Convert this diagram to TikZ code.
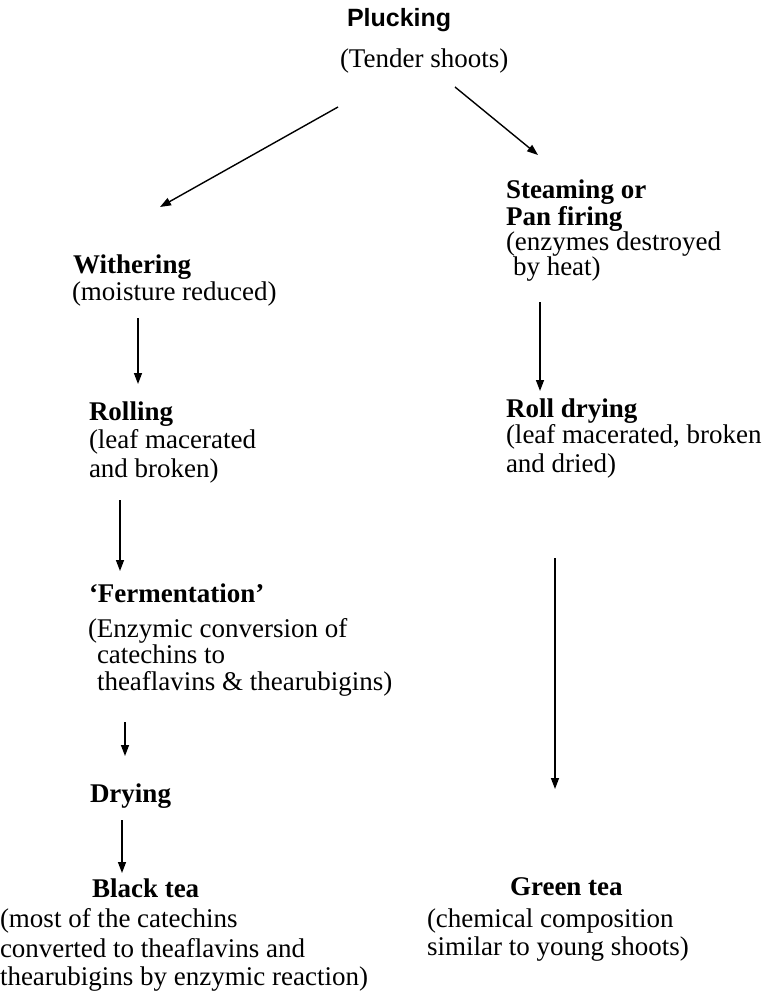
\documentclass[tikz,border=0pt]{standalone}
\usepackage{fontspec}
\setmainfont{Liberation Serif}
\newfontfamily\headsans{Liberation Sans}
\usetikzlibrary{arrows.meta}

\begin{document}
\begin{tikzpicture}[x=1pt,y=-1pt,
  txt/.style={anchor=base west,inner sep=0pt,outer sep=0pt,
    font=\fontsize{27}{30}\selectfont},
  hd/.style={txt,font=\fontsize{27}{30}\selectfont\bfseries},
  flow/.style={line width=1.4pt,-{Triangle[length=11pt,width=8pt]}}]

\useasboundingbox (0,0) rectangle (776,998);

% top: plucking
\node[txt,font=\fontsize{25}{28}\selectfont\headsans\bfseries] (pluck) at (347,27) {Plucking};
\node[txt] (pluckd) at (340,67) {(Tender shoots)};

% left branch: black tea
\node[hd]  (wither)  at (73,273)  {Withering};
\node[txt] (witherd) at (72,300)  {(moisture reduced)};

\node[hd]  (roll)   at (89,420)  {Rolling};
\node[txt] (rolld1) at (89,448)  {(leaf macerated};
\node[txt] (rolld2) at (89,477)  {and broken)};

\node[hd]  (ferm)   at (89,602)  {`Fermentation'};
\node[txt] (fermd1) at (88,637)  {(Enzymic conversion of};
\node[txt] (fermd2) at (97,663)  {catechins to};
\node[txt] (fermd3) at (97,690)  {theaflavins \& thearubigins)};

\node[hd]  (dry)    at (90,802)  {Drying};

\node[hd]  (black)  at (92,897)  {Black tea};
\node[txt] (blackd1) at (0,927)  {(most of the catechins};
\node[txt] (blackd2) at (0,957)  {converted to theaflavins and};
\node[txt] (blackd3) at (0,985)  {thearubigins by enzymic reaction)};

% right branch: green tea
\node[hd]  (steam1) at (506,198) {Steaming or};
\node[hd]  (steam2) at (506,225) {Pan firing};
\node[txt] (steamd1) at (506,250) {(enzymes destroyed};
\node[txt] (steamd2) at (513,275) {by heat)};

\node[hd]  (rdry)   at (506,417) {Roll drying};
\node[txt] (rdryd1) at (506,443) {(leaf macerated, broken};
\node[txt] (rdryd2) at (506,472) {and dried)};

\node[hd]  (green)  at (510,895) {Green tea};
\node[txt] (greend1) at (427,927) {(chemical composition};
\node[txt] (greend2) at (427,955) {similar to young shoots)};

% arrow end points
\coordinate (aL0) at (338,107);  \coordinate (aL1) at (160,207);
\coordinate (aR0) at (455,87);   \coordinate (aR1) at (538,155);
\coordinate (b10) at (138,318);  \coordinate (b11) at (138,384);
\coordinate (b20) at (120,500);  \coordinate (b21) at (120,571);
\coordinate (b30) at (125,722);  \coordinate (b31) at (125,756);
\coordinate (b40) at (122,820);  \coordinate (b41) at (122,873);
\coordinate (g10) at (540,302);  \coordinate (g11) at (540,391);
\coordinate (g20) at (555,558);  \coordinate (g21) at (555,789);

\draw[flow] (aL0) -- (aL1);
\draw[flow] (aR0) -- (aR1);
\draw[flow] (b10) -- (b11);
\draw[flow] (b20) -- (b21);
\draw[flow] (b30) -- (b31);
\draw[flow] (b40) -- (b41);
\draw[flow] (g10) -- (g11);
\draw[flow] (g20) -- (g21);

\end{tikzpicture}
\end{document}
